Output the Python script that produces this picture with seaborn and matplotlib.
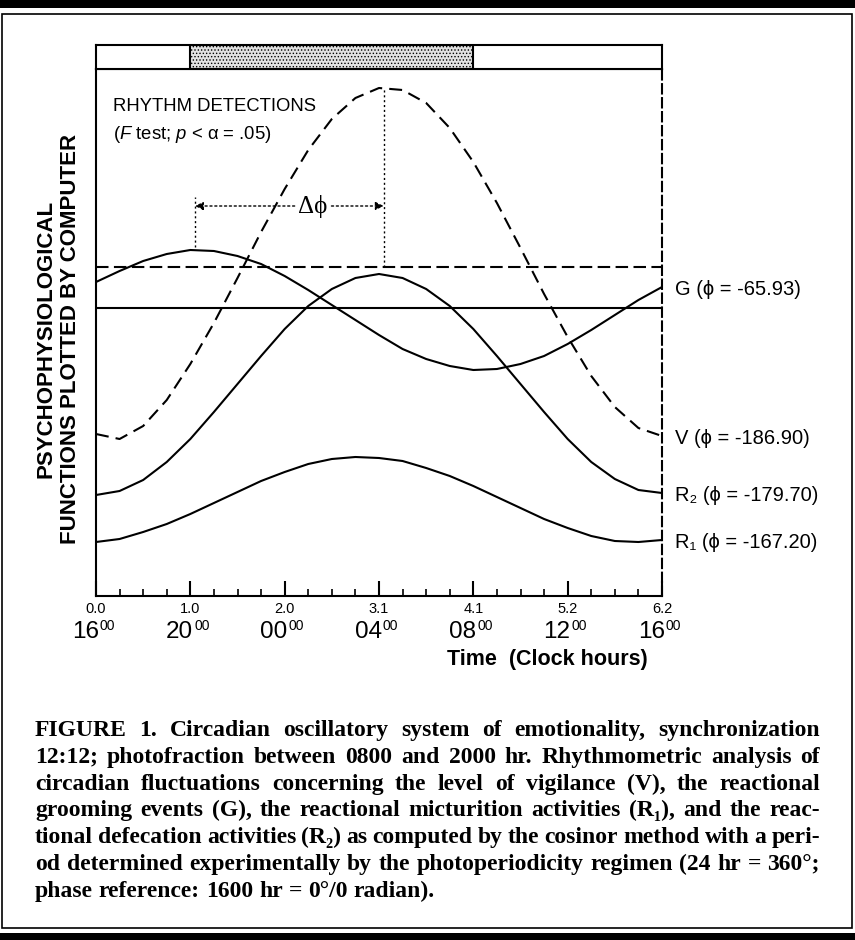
import matplotlib
matplotlib.use('Agg')
import pandas as pd
import matplotlib.pyplot as plt
import seaborn as sns
from matplotlib.patches import Rectangle

# hours after 16:00 (phase reference), one reading per clock hour
hours = list(range(25))

# curve heights (arbitrary units, 0 = time axis)
vigilance = [162, 157, 170, 196, 232, 273, 318, 364, 407, 446, 477, 498, 508,
             506, 493, 468, 434, 393, 348, 302, 259, 220, 189, 168, 160]
grooming = [314, 325, 335, 342, 346, 345, 340, 332, 320, 306, 291, 276, 261,
            247, 237, 230, 226, 227, 232, 240, 252, 266, 281, 296, 309]
defecation = [101, 105, 116, 134, 157, 184, 212, 240, 267, 290, 307, 318, 322,
              318, 307, 290, 267, 240, 212, 184, 157, 134, 117, 106, 103]
micturition = [54, 57, 64, 72, 82, 93, 104, 115, 124, 132, 137, 139, 138,
               135, 128, 120, 110, 99, 88, 77, 68, 60, 55, 54, 56]

# mesor levels and acrophase positions (hours) marked on the figure
mesor_v = 329
mesor_g = 288
acro_g = 4.2
acro_v = 12.2

curve_names = ['V', 'G', 'R2', 'R1']
curve_labels = {'G': 'G (\u03d5 = -65.93)', 'V': 'V (\u03d5 = -186.90)',
                'R2': 'R\u2082 (\u03d5 = -179.70)', 'R1': 'R\u2081 (\u03d5 = -167.20)'}

major_hours = [0, 4, 8, 12, 16, 20, 24]
radian_labels = ['0.0', '1.0', '2.0', '3.1', '4.1', '5.2', '6.2']
clock_labels = ['16', '20', '00', '04', '08', '12', '16']
dark_start, dark_end = 4, 16

caption_lines = [
    "FIGURE 1. Circadian oscillatory system of emotionality, synchronization",
    "12:12; photofraction between 0800 and 2000 hr. Rhythmometric analysis of",
    "circadian fluctuations concerning the level of vigilance (V), the reactional",
    "grooming events (G), the reactional micturition activities (R\u2081), and the reac-",
    "tional defecation activities (R\u2082) as computed by the cosinor method with a peri-",
    "od determined experimentally by the photoperiodicity regimen (24 hr = 360\u00b0;",
    "phase reference: 1600 hr = 0\u00b0/0 radian).",
]

sns.set_theme(style='white')
plt.rcParams['font.family'] = ['Liberation Sans', 'DejaVu Sans']
plt.rcParams['mathtext.fontset'] = 'custom'
plt.rcParams['mathtext.rm'] = 'Liberation Sans'
plt.rcParams['mathtext.it'] = 'Liberation Sans:italic'
plt.rcParams['mathtext.bf'] = 'Liberation Sans:bold'
plt.rcParams['text.color'] = 'black'
plt.rcParams['xtick.color'] = 'black'
plt.rcParams['hatch.color'] = '#9a9a9a'
plt.rcParams['hatch.linewidth'] = 0.6

W, H = 855, 940


def box(x0, y0, x1, y1):
    return [x0 / W, 1 - y1 / H, (x1 - x0) / W, (y1 - y0) / H]


fig = plt.figure(figsize=(W / 100, H / 100), dpi=100)
ax = fig.add_axes(box(96, 69, 662, 596))
strip = fig.add_axes(box(96, 45, 662, 69))

# curves
df = pd.DataFrame({
    'hour': hours * 4,
    'level': vigilance + grooming + defecation + micturition,
    'curve': [c for c in curve_names for _ in hours],
})
sns.lineplot(data=df, x='hour', y='level', hue='curve', style='curve',
             palette={c: 'black' for c in curve_names},
             dashes={'V': (6.2, 3.4), 'G': '', 'R2': '', 'R1': ''},
             linewidth=1.5, errorbar=None, legend=False, ax=ax)

ax.axhline(mesor_v, color='black', lw=1.5, ls=(0, (6, 2.6)))
ax.axhline(mesor_g, color='black', lw=1.5)

# acrophase markers and phase difference
ax.plot([acro_g, acro_g], [349, 399], color='black', lw=1, ls=(0, (1.5, 2)))
ax.plot([acro_v, acro_v], [mesor_v, max(vigilance)], color='black', lw=1, ls=(0, (1.5, 2)))
ax.annotate('', xy=(acro_g, 390), xytext=(acro_v, 390),
            arrowprops=dict(arrowstyle='<|-|>', color='black', lw=1, ls=(0, (1.5, 2)),
                            mutation_scale=12, shrinkA=0, shrinkB=0))
ax.text(9.2, 390, '\u0394\u03d5', ha='center', va='center', fontsize=18,
        family=['Liberation Serif', 'DejaVu Serif'],
        bbox=dict(facecolor='white', edgecolor='none', pad=1.5))

ax.text(0.03, 0.928, 'RHYTHM DETECTIONS', transform=ax.transAxes, va='center', fontsize=13.3)
ax.text(0.03, 0.875, r'($\it{F}$ test; $\it{p}$ < α = .05)', transform=ax.transAxes,
        va='center', fontsize=13.3)

# end labels
ends = {'V': vigilance, 'G': grooming, 'R2': defecation, 'R1': micturition}
for c in ['G', 'V', 'R2', 'R1']:
    ax.annotate(curve_labels[c], xy=(hours[-1], ends[c][-1]), xytext=(9.5, -2),
                textcoords='offset points', ha='left', va='center', fontsize=14.5,
                annotation_clip=False)

ax.set_xlim(0, 24)
ax.set_ylim(0, 527)
ax.set_yticks([])
ax.set_xlabel('')
ax.set_ylabel('')
ax.set_xticks(major_hours, radian_labels)
ax.set_xticks(hours, minor=True)
ax.tick_params(axis='x', which='major', direction='in', length=10.8, width=1.5,
               labelsize=10.5, pad=4, bottom=True)
ax.tick_params(axis='x', which='minor', direction='in', length=5, width=1.2, bottom=True)
for s in ax.spines.values():
    s.set_color('black')
    s.set_linewidth(1.5)
ax.spines['right'].set_linestyle((0, (4.5, 2.2)))

# clock hours: large digits with small raised "00"
for h, lab in zip(major_hours, clock_labels):
    ax.annotate(lab, xy=(h, 0), xycoords=('data', 'axes fraction'), xytext=(2, -30),
                textcoords='offset points', ha='right', va='baseline',
                fontsize=17.5, annotation_clip=False)
    ax.annotate('00', xy=(h, 0), xycoords=('data', 'axes fraction'), xytext=(2.8, -24.5),
                textcoords='offset points', ha='left', va='baseline',
                fontsize=10, annotation_clip=False)

# light/dark bar
strip.set_xlim(0, 24)
strip.set_ylim(0, 1)
strip.axvspan(dark_start, dark_end, facecolor='#e2e2e2', edgecolor='black',
              lw=1.5, hatch='.....')
strip.set_xticks([])
strip.set_yticks([])
for s in strip.spines.values():
    s.set_color('black')
    s.set_linewidth(1.5)

fig.text(58.5 / W, 1 - 339 / H, 'PSYCHOPHYSIOLOGICAL\nFUNCTIONS PLOTTED BY COMPUTER',
         rotation=90, ha='center', va='center', fontsize=16, fontweight='bold',
         linespacing=1.25, multialignment='center')
fig.text(547 / W, 1 - 660 / H, 'Time  (Clock hours)', ha='center', va='center',
         fontsize=15.5, fontweight='bold')

# frame and rules
fig.add_artist(Rectangle((2 / W, 1 - 928 / H), 850 / W, 914 / H, transform=fig.transFigure,
                         fill=False, edgecolor='black', lw=1.2))
fig.add_artist(Rectangle((0, 1 - 8 / H), 1, 8 / H, transform=fig.transFigure,
                         facecolor='black', edgecolor='none'))
fig.add_artist(Rectangle((0, 0), 1, 7 / H, transform=fig.transFigure,
                         facecolor='black', edgecolor='none'))

# justified caption
renderer = fig.canvas.get_renderer()
cap_left, cap_right = 35, 820
cap_family = ['Liberation Serif', 'DejaVu Serif']


def set_caption(size):
    made = []
    min_gap = 1e9
    for i, line in enumerate(caption_lines):
        words = line.split(' ')
        y = 1 - (736 + 26.8 * i) / H
        texts = [fig.text(0, y, w, fontsize=size, fontweight='bold', family=cap_family,
                          va='baseline', ha='left') for w in words]
        widths = [t.get_window_extent(renderer).width for t in texts]
        if i == len(caption_lines) - 1:
            gap = 0.25 * size * 100 / 72
        else:
            gap = (cap_right - cap_left - sum(widths)) / (len(words) - 1)
            min_gap = min(min_gap, gap)
        x = cap_left
        for t, w in zip(texts, widths):
            t.set_x(x / W)
            x += w + gap
        made += texts
    return made, min_gap


size = 19.0
texts, min_gap = set_caption(size)
while min_gap < 0.2 * size * 100 / 72:
    for t in texts:
        t.remove()
    size -= 0.2
    texts, min_gap = set_caption(size)

fig.savefig('out.png', dpi=100)
